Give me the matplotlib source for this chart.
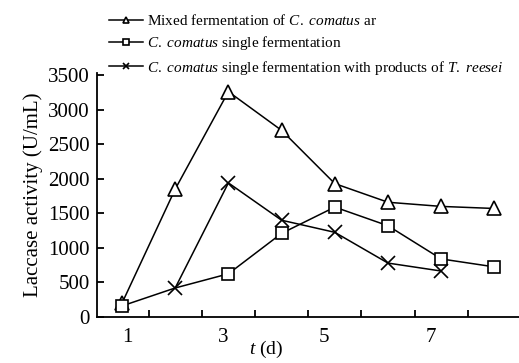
import matplotlib
matplotlib.use("Agg")
import matplotlib.pyplot as plt

# Data
days = [1, 2, 3, 4, 5, 6, 7, 8]
mixed = [200, 1850, 3260, 2700, 1930, 1660, 1600, 1570]
single = [160, 420, 625, 1210, 1590, 1320, 840, 725]
single_treesei_days = [2, 3, 4, 5, 6, 7]
single_treesei = [420, 1940, 1400, 1225, 780, 665]

xtick_labels = ["1", "3", "5", "7"]
ytick_vals = [0, 500, 1000, 1500, 2000, 2500, 3000, 3500]

plt.rcParams['font.family'] = 'Liberation Serif'
plt.rcParams['mathtext.fontset'] = 'custom'
plt.rcParams['mathtext.rm'] = 'Liberation Serif'
plt.rcParams['mathtext.it'] = 'Liberation Serif:italic'

fig = plt.figure(figsize=(5.19, 3.63), dpi=100)
ax = fig.add_axes([97 / 519, 46 / 363, 424 / 519, 244 / 363])

lw = 1.1
mew = 1.2
l1, = ax.plot(days, mixed, color='black', lw=lw, marker='^', ms=10,
              mfc='white', mec='black', mew=mew, zorder=3)
l3, = ax.plot(single_treesei_days, single_treesei, color='black', lw=lw,
              marker='x', ms=10, mec='black', mew=mew, zorder=3)
l2, = ax.plot(days, single, color='black', lw=lw, marker='s', ms=9,
              mfc='white', mec='black', mew=mew, zorder=4,
              markevery=[0, 2, 3, 4, 5, 6, 7])

ax.set_xlim(0.53, 8.5)
ax.set_ylim(0, 3530)

ax.spines['top'].set_visible(False)
ax.spines['right'].set_visible(False)
ax.spines['left'].set_linewidth(1.3)
ax.spines['bottom'].set_linewidth(1.3)

# day labels (no marks) and separating ticks between days
ax.set_xticks([1.1, 2.9, 4.8, 6.8])
ax.set_xticklabels(xtick_labels)
ax.set_xticks([1.5, 2.5, 3.5, 4.5, 5.5, 6.5, 7.5], minor=True)
ax.tick_params(axis='x', which='major', length=0, pad=8, labelsize=15)
ax.tick_params(axis='x', which='minor', direction='in', length=5, width=1.3)
ax.set_yticks(ytick_vals)
ax.tick_params(axis='y', direction='in', length=5, width=1.3, pad=5,
               labelsize=15)

ax.set_ylabel('Laccase activity (U/mL)', fontsize=15, labelpad=4)
ax.set_xlabel(r'$\mathit{t}$ (d)', fontsize=14)
ax.xaxis.set_label_coords(0.40, -0.09)

labels = [r'Mixed fermentation of $\mathit{C.\ comatus}$ ar',
          r'$\mathit{C.\ comatus}$ single fermentation',
          r'$\mathit{C.\ comatus}$ single fermentation with products of $\mathit{T.\ reesei}$']
fig.legend([l1, l2, l3], labels, loc='upper left',
           bbox_to_anchor=(96 / 519, 1.0), frameon=False, fontsize=11,
           markerscale=0.5, handlelength=2.2, handletextpad=0.3,
           labelspacing=0.42, borderaxespad=0.55, borderpad=0.3)

fig.savefig('out.png', dpi=100)
